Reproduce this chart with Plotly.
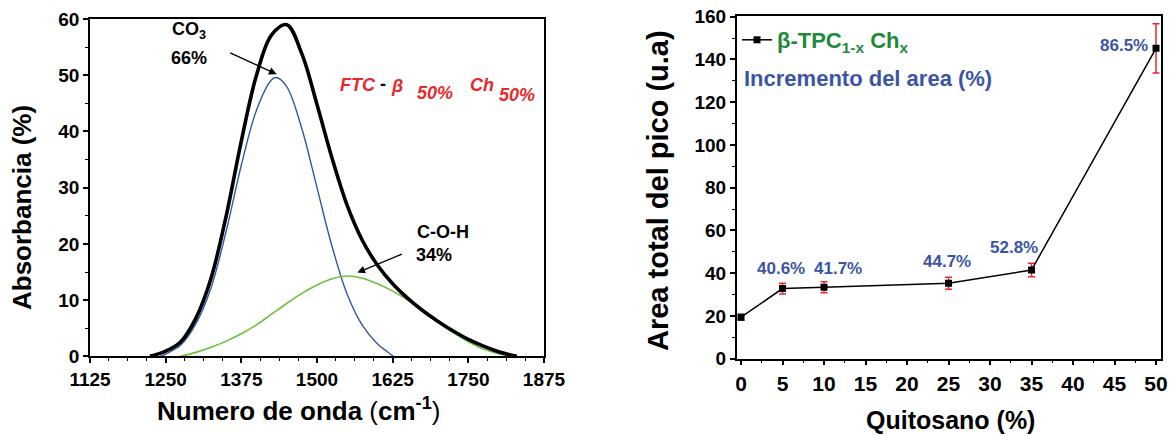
import plotly.graph_objects as go

# ---------------- data: left panel (deconvoluted band) ----------------
wavenumber_total = [1224, 1250, 1275, 1300, 1325, 1350, 1375, 1400, 1425, 1450, 1475, 1500,
                    1525, 1550, 1575, 1600, 1625, 1650, 1675, 1700, 1725, 1750, 1775, 1800, 1830]
absorb_total = [0, 0.9, 2.6, 6.8, 13.9, 25.0, 38.3, 50.0, 57.2, 59.0, 53.8, 44.8,
                35.2, 26.8, 20.6, 16.2, 12.9, 10.3, 8.1, 6.2, 4.5, 3.0, 1.8, 0.8, 0]

wavenumber_co3 = [1241, 1250, 1275, 1300, 1325, 1350, 1375, 1400, 1425, 1433, 1450, 1475, 1500,
                  1525, 1550, 1575, 1600, 1615, 1626]
absorb_co3 = [0, 0.4, 2.0, 5.8, 12.2, 22.3, 34.0, 43.8, 49.2, 49.6, 48.0, 40.5, 30.0,
              19.5, 11.0, 5.5, 2.2, 0.9, 0]

wavenumber_coh = [1274, 1300, 1325, 1350, 1375, 1400, 1425, 1450, 1475, 1500, 1525, 1550, 1575,
                  1600, 1625, 1650, 1675, 1700, 1725, 1750, 1775, 1800, 1822]
absorb_coh = [0, 0.7, 1.6, 2.7, 4.0, 5.6, 7.5, 9.4, 11.2, 12.7, 13.8, 14.3, 13.9,
              12.9, 11.6, 10.0, 8.1, 6.1, 4.2, 2.6, 1.3, 0.45, 0]

left_xticks = [1125, 1250, 1375, 1500, 1625, 1750, 1875]
left_yticks = [0, 10, 20, 30, 40, 50, 60]

# ---------------- data: right panel (total peak area) ----------------
quitosano = [0, 5, 10, 25, 35, 50]
area_total = [19.4, 32.8, 33.4, 35.3, 41.5, 145.2]
area_error = [1.4, 2.5, 2.6, 2.8, 3.2, 11.5]
increment_labels = ["", "40.6%", "41.7%", "44.7%", "52.8%", "86.5%"]

right_xticks = [0, 5, 10, 15, 20, 25, 30, 35, 40, 45, 50]
right_yticks = [0, 20, 40, 60, 80, 100, 120, 140, 160]

# ---------------- styling ----------------
PAGE_OFF = 0            # body margin removed by the post script below
W, H = 1172 - PAGE_OFF, 436 - PAGE_OFF
FONT = "Liberation Sans, Arial, sans-serif"
BLUE_LINE = "#3456a8"
GREEN_LINE = "#6cbf3c"
RED = "#e8282b"
LABEL_BLUE = "#3b55a5"
LEGEND_GREEN = "#1f8b3a"

fig = go.Figure()

fig.add_trace(go.Scatter(x=wavenumber_co3, y=absorb_co3, mode="lines", line=dict(color=BLUE_LINE, width=1.4, shape="spline"),
                         xaxis="x", yaxis="y", showlegend=False, hoverinfo="skip"))
fig.add_trace(go.Scatter(x=wavenumber_coh, y=absorb_coh, mode="lines", line=dict(color=GREEN_LINE, width=1.6, shape="spline"),
                         xaxis="x", yaxis="y", showlegend=False, hoverinfo="skip"))
fig.add_trace(go.Scatter(x=wavenumber_total, y=absorb_total, mode="lines", line=dict(color="black", width=3.6, shape="spline"),
                         xaxis="x", yaxis="y", showlegend=False, hoverinfo="skip"))

fig.add_trace(go.Scatter(
    x=quitosano, y=area_total, mode="lines+markers",
    name="β-TPC<sub>1-x</sub> Ch<sub>x</sub>",
    line=dict(color="black", width=1.5),
    marker=dict(symbol="square", size=7, color="black"),
    error_y=dict(type="data", array=area_error, visible=True, color=RED, thickness=1.5, width=3.5),
    xaxis="x2", yaxis="y2", showlegend=True))

axis_common = dict(showline=True, mirror=True, linecolor="black", linewidth=1.5, showgrid=False, zeroline=False,
                   ticks="outside", tickcolor="black", tickwidth=1.5, ticklen=5, automargin=False,
                   ticklabeloverflow="allow")


def px_x(px):
    return (px - PAGE_OFF) / W


def px_y(py):
    return 1 - (py - PAGE_OFF) / H


fig.update_layout(
    width=W, height=H, margin=dict(l=0, r=0, t=0, b=0, autoexpand=False),
    paper_bgcolor="white", plot_bgcolor="white",
    font=dict(family=FONT, color="black"),
    xaxis=dict(domain=[px_x(90), px_x(544)], range=[1125, 1875], tickvals=left_xticks, anchor="y",
               tickfont=dict(size=19, weight="bold"),
               minor=dict(dtick=31.25, tick0=1125, ticks="outside", ticklen=3, tickcolor="black", tickwidth=1.2),
               **axis_common),
    yaxis=dict(domain=[px_y(356.3), px_y(18.8)], range=[0, 60.05], tickvals=left_yticks, anchor="x",
               tickfont=dict(size=19, weight="bold"),
               minor=dict(dtick=5, tick0=0, ticks="outside", ticklen=3, tickcolor="black", tickwidth=1.2),
               **axis_common),
    xaxis2=dict(domain=[px_x(736.7), px_x(1161)], range=[-0.52, 50.6], tickvals=right_xticks, anchor="y2",
                tickfont=dict(size=21, weight="bold"),
                minor=dict(dtick=2.5, tick0=0, ticks="outside", ticklen=3, tickcolor="black", tickwidth=1.2),
                **axis_common),
    yaxis2=dict(domain=[px_y(358.7), px_y(16.3)], range=[0, 160.2], tickvals=right_yticks, anchor="x2",
                tickfont=dict(size=19, weight="bold"),
                minor=dict(dtick=10, tick0=0, ticks="outside", ticklen=3, tickcolor="black", tickwidth=1.2),
                **axis_common),
    legend=dict(x=px_x(737), y=px_y(19), xanchor="left", yanchor="top", bgcolor="rgba(0,0,0,0)",
                font=dict(size=22, color=LEGEND_GREEN, family=FONT, weight="bold"), itemwidth=30),
)

anns = []


def text_px(text, cx, cy, size, color="black", angle=0, italic=False, xanchor="center"):
    anns.append(dict(text=text, x=px_x(cx), y=px_y(cy), xref="paper", yref="paper", showarrow=False,
                     xanchor=xanchor, yanchor="middle", textangle=angle,
                     font=dict(size=size, color=color, family=FONT, weight="bold",
                               style="italic" if italic else "normal")))


# axis titles
text_px("Absorbancia (%)", 22, 208, 26, angle=-90)
text_px("Numero de onda <span style='font-weight:normal'>(</span>cm<sup>-1</sup><span style='font-weight:normal'>)</span>",
        298, 409, 26)
text_px("Area total del pico (u.a)", 658, 191, 29, angle=-90)
text_px("Quitosano (%)", 950, 420, 25)

# left panel annotations
text_px("CO<sub>3</sub>", 189, 31, 18)
text_px("66%", 189, 58, 18)
text_px("FTC", 358, 85, 18, color=RED, italic=True)
text_px("-", 383, 84, 18)
text_px("β", 397, 86, 18, color=RED, italic=True)
text_px("50%", 435, 93, 18, color=RED, italic=True)
text_px("Ch", 482, 85, 18, color=RED, italic=True)
text_px("50%", 517, 95, 18, color=RED, italic=True)
text_px("C-O-H", 443, 232, 18)
text_px("34%", 434, 255, 18)

# arrows (head in data coordinates, tail offset in pixels)
anns.append(dict(x=1433.4, y=50.2, xref="x", yref="y", text="", showarrow=True, ax=-48, ay=-22,
                 arrowhead=2, arrowsize=1.1, arrowwidth=1.4, arrowcolor="black"))
anns.append(dict(x=1566.6, y=14.9, xref="x", yref="y", text="", showarrow=True, ax=46, ay=-19,
                 arrowhead=2, arrowsize=1.1, arrowwidth=1.4, arrowcolor="black"))

# right panel: increment labels
label_shift = [(0, 0), (-2, 20), (14, 19), (-2, 22), (-18, 23), (-6, 3)]
for xv, yv, lab, (dx, dy) in zip(quitosano, area_total, increment_labels, label_shift):
    if not lab:
        continue
    anns.append(dict(x=xv, y=yv, xref="x2", yref="y2", text=lab, showarrow=False,
                     xanchor="right" if xv == quitosano[-1] else "center", yanchor="middle",
                     xshift=dx, yshift=dy, font=dict(size=17, color=LABEL_BLUE, family=FONT, weight="bold")))

text_px("Incremento del area (%)", 742, 78, 22, color=LABEL_BLUE, xanchor="left")

fig.update_layout(annotations=anns)
fig.write_html("out.html", config={"displayModeBar": False},
               post_script="document.body.style.margin='0px';")
